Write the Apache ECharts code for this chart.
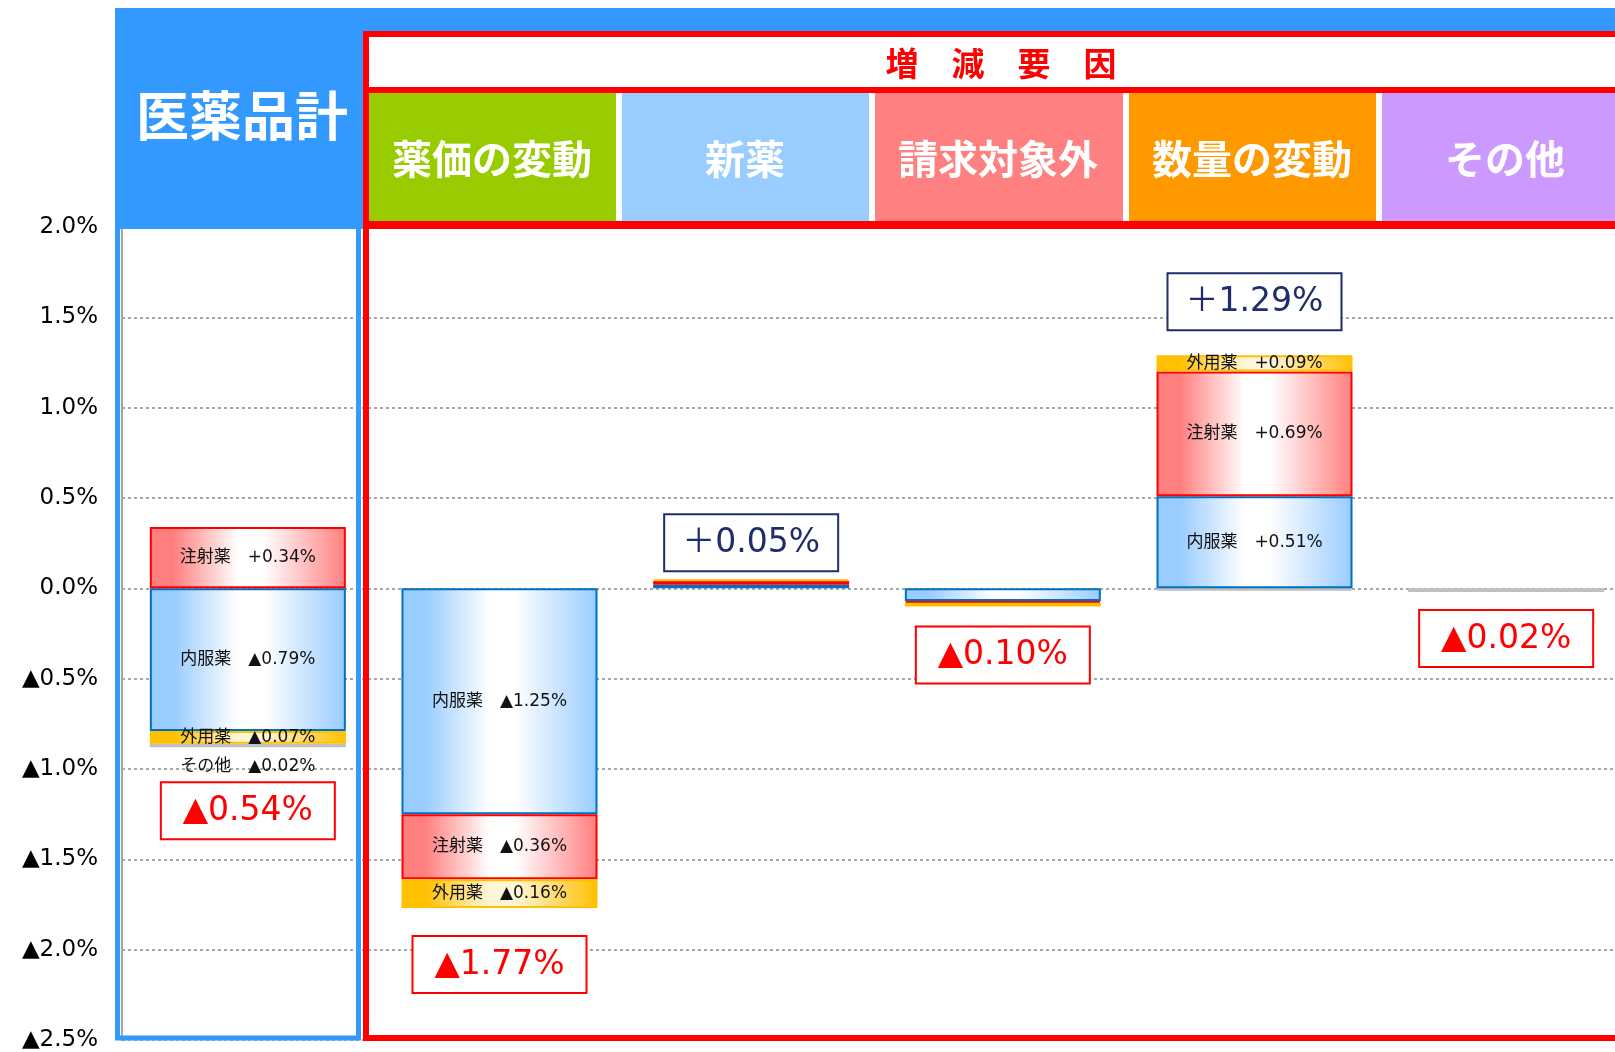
<!DOCTYPE html>
<html><head><meta charset="utf-8">
<script src="https://cdn.jsdelivr.net/npm/echarts@6/dist/echarts.min.js"></script>
<style>html,body{margin:0;padding:0;overflow:hidden;background:#fff}#c{width:1640px;height:1052px}</style>
</head><body><div id="c"></div>
<script>
// ---- data ----
const categories = ['医薬品計', '薬価の変動', '新薬', '請求対象外', '数量の変動', 'その他'];
const naifuku = [-0.79, -1.25, 0.02, -0.07, 0.51, null];   // 内服薬
const chusha  = [0.34, -0.36, 0.02, -0.01, 0.69, null];    // 注射薬
const gaiyo   = [-0.07, -0.16, 0.01, -0.02, 0.09, null];   // 外用薬
const sonota  = [-0.02, null, null, null, -0.01, -0.02];   // その他
const totals  = [-0.54, -1.77, 0.05, -0.10, 1.29, -0.02];
const showComponentLabel = [true, true, false, false, true, false];
const showOtherLabel = [true, false, false, false, false, false];
const headerTitle = '増　減　要　因';
const leftTitle = '医薬品計';

// ---- styles ----
const boxGap = [35, 28, 8, 20, 25, 18];
const headerCells = [
  {x: 369, w: 247, color: '#99CC00'},
  {x: 622, w: 247, color: '#99CCFF'},
  {x: 875, w: 248, color: '#FF8080'},
  {x: 1129, w: 247, color: '#FF9900'},
  {x: 1382, w: 260, color: '#CC99FF'}
];
const NUM = '"DejaVu Sans","Noto Sans CJK JP",sans-serif';
const JP = '"Noto Sans CJK JP",sans-serif';

function grad(edge, mid) {
  return new echarts.graphic.LinearGradient(0, 0, 1, 0, [
    {offset: 0, color: edge}, {offset: 0.12, color: edge},
    {offset: 0.45, color: mid}, {offset: 0.58, color: mid},
    {offset: 1, color: edge}
  ]);
}
function fmt(v) { return (v < 0 ? '▲' : '+') + Math.abs(v).toFixed(2) + '%'; }
function fmtTotal(v) { return (v < 0 ? '▲' : '＋') + Math.abs(v).toFixed(2) + '%'; }

function makeSeries(name, arr, flags, edge, mid, border, bw, z, offsetY) {
  return {
    name, type: 'bar', stack: 'a', barWidth: 196, z,
    itemStyle: {color: grad(edge, mid), borderColor: border, borderWidth: bw},
    label: {show: false},
    emphasis: {disabled: true},
    data: arr.map((v, i) => {
      if (v === null) return '-';
      const item = {value: v};
      if (flags[i]) {
        item.label = {
          show: true, position: 'inside', formatter: name + '　' + fmt(v),
          color: '#111', fontSize: 17, fontFamily: NUM,
          offset: [0, offsetY]
        };
      }
      return item;
    })
  };
}

const posSum = categories.map((c, i) => [naifuku, chusha, gaiyo, sonota].reduce((s, a) => s + (a[i] > 0 ? a[i] : 0), 0));
const negSum = categories.map((c, i) => [naifuku, chusha, gaiyo, sonota].reduce((s, a) => s + (a[i] < 0 ? a[i] : 0), 0));

const graphics = [
  {type: 'rect', z: 1, shape: {x: 115, y: 8, width: 1530, height: 221}, style: {fill: '#3399FF'}},
  {type: 'rect', z: 2, shape: {x: 366, y: 34, width: 1300, height: 190}, style: {fill: '#fff'}},
  {type: 'rect', z: 3, shape: {x: 366, y: 87, width: 1300, height: 6}, style: {fill: '#FF0000'}},
  {type: 'rect', z: 3, shape: {x: 366, y: 221, width: 1300, height: 8}, style: {fill: '#FF0000'}},
  {type: 'text', z: 4, style: {text: leftTitle, x: 242, y: 116, align: 'center', verticalAlign: 'middle', fill: '#fff', fontSize: 53, fontWeight: 'bold', fontFamily: JP}},
  {type: 'text', z: 4, style: {text: headerTitle, x: 1001, y: 63, align: 'center', verticalAlign: 'middle', fill: '#FF0000', fontSize: 33, fontWeight: 'bold', fontFamily: JP}},
  {type: 'rect', z: 60, shape: {x: 117.5, y: 226, width: 241, height: 812}, style: {fill: null, stroke: '#3399FF', lineWidth: 5}},
  {type: 'rect', z: 61, shape: {x: 366, y: 34, width: 1300, height: 1004}, style: {fill: null, stroke: '#FF0000', lineWidth: 6}}
];
headerCells.forEach((h, k) => {
  graphics.push({type: 'rect', z: 3, shape: {x: h.x, y: 93, width: h.w, height: 128}, style: {fill: h.color}});
  graphics.push({type: 'text', z: 4, style: {text: categories[k + 1], x: h.x + 123, y: 159, align: 'center', verticalAlign: 'middle', fill: '#fff', fontSize: 40, fontWeight: 'bold', fontFamily: JP}});
});

const chart = echarts.init(document.getElementById('c'), null, {renderer: 'canvas'});
chart.setOption({
  animation: false,
  backgroundColor: '#fff',
  grid: {left: 122, top: 227, width: 1510, height: 813, outerBoundsMode: 'none', containLabel: false},
  xAxis: {
    type: 'category', data: categories,
    axisLine: {show: false}, axisTick: {show: false}, axisLabel: {show: false}, splitLine: {show: false}
  },
  yAxis: {
    type: 'value', min: -2.5, max: 2.0, interval: 0.5,
    axisLine: {show: true, lineStyle: {color: '#A6A6A6', width: 2}},
    axisTick: {show: false},
    axisLabel: {
      margin: 24, color: '#000', fontSize: 23, fontFamily: NUM, padding: [6, 0, 0, 0],
      formatter: v => (v < 0 ? '▲' : '') + Math.abs(v).toFixed(1) + '%'
    },
    splitLine: {show: true, lineStyle: {color: '#A6A6A6', width: 2, type: [3, 3]}}
  },
  graphic: graphics,
  series: [
    makeSeries('内服薬', naifuku, showComponentLabel, '#99CCFF', '#FFFFFF', '#0070C0', 2, 5, 0),
    makeSeries('注射薬', chusha, showComponentLabel, '#FF7F7F', '#FFFFFF', '#FF0000', 2, 5, 0),
    makeSeries('外用薬', gaiyo, showComponentLabel, '#FFC000', '#FFF6DA', '#FFC000', 2, 5, 0),
    makeSeries('その他', sonota, showOtherLabel, '#BFBFBF', '#BFBFBF', '#BFBFBF', 3, 4, 21),
    {
      type: 'custom', z: 20,
      data: categories.map((c, i) => [i, totals[i], totals[i] < 0 ? negSum[i] : posSum[i]]),
      encode: {x: 0, y: 1},
      renderItem: function (params, api) {
        const i = api.value(0), t = api.value(1), edge = api.value(2);
        const p = api.coord([i, edge]);
        const w = 174, h = 57, g = boxGap[i];
        const neg = t < 0;
        const y = neg ? p[1] + g : p[1] - g - h;
        const col = neg ? '#FF0000' : '#1F2D6B';
        return {
          type: 'group', children: [
            {type: 'rect', shape: {x: p[0] - w / 2, y: y, width: w, height: h}, style: {fill: '#fff', stroke: col, lineWidth: 2}},
            {type: 'text', style: {text: fmtTotal(t), x: p[0], y: y + h / 2 + 1, align: 'center', verticalAlign: 'middle', fill: col, fontSize: 33, fontFamily: NUM}}
          ]
        };
      }
    }
  ]
});
</script>
</body></html>
